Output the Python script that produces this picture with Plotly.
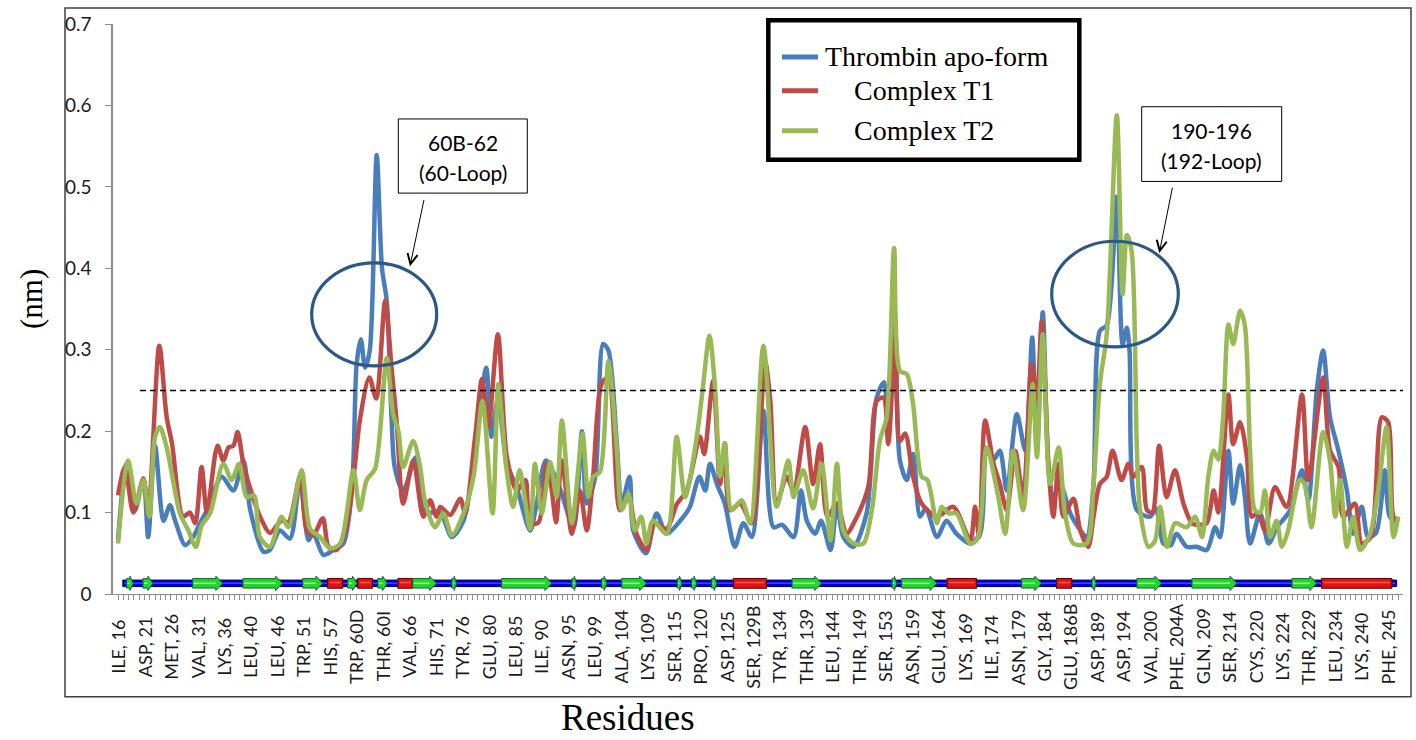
import plotly.graph_objects as go

# ---------------- data ----------------
tick_labels = ["ILE, 16", "ASP, 21", "MET, 26", "VAL, 31", "LYS, 36", "LEU, 40", "LEU, 46", "TRP, 51",
               "HIS, 57", "TRP, 60D", "THR, 60I", "VAL, 66", "HIS, 71", "TYR, 76", "GLU, 80", "LEU, 85",
               "ILE, 90", "ASN, 95", "LEU, 99", "ALA, 104", "LYS, 109", "SER, 115", "PRO, 120", "ASP, 125",
               "SER, 129B", "TYR, 134", "THR, 139", "LEU, 144", "THR, 149", "SER, 153", "ASN, 159", "GLU, 164",
               "LYS, 169", "ILE, 174", "ASN, 179", "GLY, 184", "GLU, 186B", "ASP, 189", "ASP, 194", "VAL, 200",
               "PHE, 204A", "GLN, 209", "SER, 214", "CYS, 220", "LYS, 224", "THR, 229", "LEU, 234", "LYS, 240",
               "PHE, 245"]
tick_index = [5 * k for k in range(len(tick_labels))]

apo_idx = [0, 1.6, 3.2, 4.8, 5.7, 7.0, 8.6, 9.8, 10.8, 12.7, 14.2, 15.5, 16.8, 19.6, 21.8, 23.7, 25.0, 27.5,
           28.7, 30.6, 32.5, 34.4, 36.0, 36.9, 38.8, 40.7, 42.6, 44.3, 45.1, 45.9, 46.7, 47.6, 48.9, 49.9, 50.8,
           51.7, 52.3, 53.9, 56.3, 57.7, 59.0, 60.9, 63.1, 65.3, 67.5, 69.6, 70.6, 71.8, 73.5, 75.4, 77.9, 79.1,
           80.9, 83.5, 86.1, 87.7, 88.6, 90.2, 91.7, 92.7, 94.3, 95.2, 96.7, 97.4, 99.8, 101.8, 103.7, 106.9,
           108.1, 109.9, 111.0, 111.9, 113.2, 114.7, 116.6, 118.2, 119.8, 122.0, 123.9, 125.5, 127.7, 129.1,
           130.2, 131.8, 132.9, 134.7, 135.9, 137.1, 139.0, 141.5, 143.4, 144.8, 145.6, 146.8, 147.8, 149.1,
           150.3, 151.6, 152.7, 154.8, 156.6, 158.5, 161.1, 163.0, 164.2, 165.5, 166.7, 168.0, 169.9, 171.5,
           172.8, 173.7, 174.8, 175.9, 176.8, 178.1, 180.0, 181.5, 183.1, 184.4, 185.6, 186.9, 188.8, 189.9,
           190.7, 191.2, 192.6, 195.1, 196.2, 197.6, 199.0, 200.1, 202.0, 203.9, 205.8, 207.4, 208.3, 209.9,
           210.8, 212.1, 213.0, 214.0, 215.9, 217.5, 219.1, 221.6, 223.8, 225.0, 226.6, 227.8, 229.1, 230.7,
           232.3, 233.5, 235.1, 236.3, 237.8, 239.5, 240.4, 242.0]
apo_rmsf = [0.066, 0.160, 0.103, 0.140, 0.070, 0.182, 0.090, 0.109, 0.090, 0.060, 0.070, 0.087, 0.103, 0.144,
            0.127, 0.164, 0.103, 0.052, 0.054, 0.078, 0.068, 0.140, 0.066, 0.075, 0.048, 0.054, 0.062, 0.140,
            0.282, 0.313, 0.278, 0.300, 0.539, 0.400, 0.360, 0.217, 0.156, 0.127, 0.168, 0.103, 0.100, 0.100,
            0.070, 0.090, 0.176, 0.278, 0.193, 0.240, 0.160, 0.130, 0.078, 0.110, 0.164, 0.130, 0.082, 0.200,
            0.111, 0.144, 0.307, 0.299, 0.184, 0.111, 0.144, 0.078, 0.050, 0.099, 0.074, 0.095, 0.107, 0.144,
            0.127, 0.160, 0.135, 0.111, 0.058, 0.087, 0.070, 0.225, 0.082, 0.085, 0.070, 0.127, 0.090, 0.074,
            0.090, 0.054, 0.111, 0.070, 0.058, 0.099, 0.241, 0.260, 0.193, 0.339, 0.164, 0.140, 0.172, 0.095,
            0.105, 0.070, 0.090, 0.074, 0.062, 0.075, 0.176, 0.165, 0.176, 0.127, 0.221, 0.176, 0.315, 0.176,
            0.346, 0.156, 0.119, 0.135, 0.099, 0.082, 0.070, 0.135, 0.323, 0.330, 0.488, 0.307, 0.327, 0.300,
            0.103, 0.095, 0.105, 0.062, 0.060, 0.074, 0.058, 0.058, 0.054, 0.082, 0.070, 0.176, 0.111, 0.158,
            0.120, 0.062, 0.099, 0.062, 0.082, 0.103, 0.152, 0.115, 0.250, 0.299, 0.217, 0.176, 0.127, 0.074,
            0.107, 0.070, 0.075, 0.152, 0.095, 0.087]

t1_idx = [0, 1.3, 2.9, 4.8, 5.7, 7.8, 9.2, 10.2, 12.3, 13.6, 14.6, 15.8, 16.8, 18.8, 19.9, 20.9, 21.8, 22.6,
          23.7, 25.6, 27.2, 28.7, 30.9, 32.2, 34.4, 35.7, 36.9, 38.7, 39.8, 41.3, 43.2, 44.8, 45.7, 47.5, 48.8,
          50.5, 51.7, 52.7, 53.9, 55.8, 57.7, 59.0, 60.2, 60.9, 62.8, 64.7, 65.6, 67.5, 68.8, 70.0, 71.8, 73.5,
          75.4, 77.0, 77.9, 79.5, 81.0, 82.0, 82.8, 83.9, 85.8, 87.3, 88.6, 89.8, 91.4, 92.7, 94.9, 96.5, 98.0,
          99.9, 101.5, 103.7, 105.6, 107.5, 110.0, 110.8, 112.5, 113.8, 114.7, 115.7, 117.6, 119.8, 122.3,
          123.3, 124.5, 126.4, 127.7, 129.9, 131.4, 132.7, 134.1, 135.9, 137.7, 139.3, 141.8, 143.4, 144.7,
          145.6, 146.9, 147.8, 148.8, 150.3, 151.9, 154.8, 157.9, 161.1, 162.0, 162.8, 163.9, 165.5, 166.7,
          168.0, 169.6, 171.1, 172.7, 173.7, 174.6, 175.9, 176.8, 177.8, 178.7, 180.6, 181.9, 183.4, 184.4,
          185.6, 186.9, 188.0, 189.7, 191.0, 191.9, 193.5, 194.5, 195.5, 196.8, 198.2, 199.8, 201.4, 203.0,
          204.3, 205.8, 207.1, 208.0, 209.9, 210.8, 212.1, 213.4, 214.3, 215.5, 216.8, 218.7, 220.9, 223.8,
          225.0, 227.8, 229.1, 230.7, 231.6, 233.8, 235.1, 236.8, 238.9, 240.1, 241.1, 242.0]
t1_rmsf = [0.121, 0.156, 0.100, 0.142, 0.099, 0.305, 0.217, 0.185, 0.095, 0.100, 0.087, 0.156, 0.100, 0.182,
           0.164, 0.180, 0.182, 0.199, 0.160, 0.117, 0.090, 0.075, 0.090, 0.088, 0.144, 0.078, 0.072, 0.093,
           0.058, 0.054, 0.082, 0.160, 0.213, 0.266, 0.240, 0.360, 0.278, 0.209, 0.111, 0.164, 0.095, 0.115,
           0.095, 0.107, 0.097, 0.117, 0.099, 0.193, 0.264, 0.205, 0.319, 0.168, 0.127, 0.140, 0.087, 0.088,
           0.160, 0.127, 0.088, 0.164, 0.074, 0.127, 0.078, 0.144, 0.258, 0.266, 0.103, 0.119, 0.074, 0.054,
           0.087, 0.080, 0.110, 0.127, 0.193, 0.172, 0.262, 0.135, 0.185, 0.103, 0.111, 0.087, 0.286, 0.237,
           0.111, 0.144, 0.127, 0.205, 0.135, 0.184, 0.095, 0.111, 0.074, 0.090, 0.131, 0.237, 0.241, 0.184,
           0.315, 0.188, 0.197, 0.144, 0.111, 0.095, 0.107, 0.066, 0.107, 0.070, 0.213, 0.160, 0.135, 0.103,
           0.176, 0.119, 0.282, 0.237, 0.335, 0.156, 0.095, 0.160, 0.095, 0.117, 0.078, 0.058, 0.095, 0.135,
           0.144, 0.176, 0.140, 0.160, 0.144, 0.156, 0.103, 0.100, 0.182, 0.119, 0.152, 0.111, 0.087, 0.085,
           0.087, 0.127, 0.100, 0.245, 0.184, 0.211, 0.168, 0.095, 0.100, 0.078, 0.131, 0.107, 0.245, 0.140,
           0.266, 0.176, 0.156, 0.095, 0.111, 0.062, 0.070, 0.217, 0.211, 0.095, 0.090]

t2_idx = [0, 1.9, 3.5, 4.8, 5.9, 7.0, 7.9, 9.2, 11.7, 13.3, 14.7, 15.8, 17.4, 19.9, 21.5, 22.9, 24.3, 25.7,
          26.8, 28.7, 30.9, 32.2, 34.7, 36.3, 38.2, 40.1, 42.0, 44.5, 45.7, 47.0, 48.6, 50.8, 52.0, 53.0, 53.9,
          55.8, 57.1, 58.0, 59.9, 61.5, 63.1, 65.3, 67.2, 68.9, 70.8, 71.9, 73.3, 74.7, 75.9, 77.9, 78.8, 80.1,
          81.7, 82.9, 83.9, 85.8, 87.8, 88.9, 89.8, 91.1, 92.7, 94.3, 95.2, 96.5, 97.7, 98.9, 99.9, 101.1,
          103.7, 105.6, 107.2, 109.4, 110.5, 111.8, 112.9, 113.8, 114.7, 116.0, 117.9, 119.5, 122.0, 124.5,
          126.7, 127.7, 129.5, 131.4, 133.0, 134.7, 135.9, 137.1, 139.0, 140.9, 142.5, 144.0, 145.3, 146.7,
          147.8, 149.1, 150.3, 151.9, 153.0, 154.8, 155.7, 157.0, 158.5, 161.1, 162.5, 164.2, 166.4, 167.7,
          169.2, 171.1, 172.9, 173.7, 174.8, 176.2, 177.8, 179.0, 180.6, 183.1, 184.4, 185.6, 186.9, 188.8,
          189.9, 190.7, 191.6, 192.6, 193.2, 194.8, 196.0, 197.0, 198.3, 199.8, 202.0, 203.6, 204.9, 206.1,
          207.1, 208.0, 208.9, 209.9, 210.8, 212.1, 213.0, 214.0, 214.9, 215.9, 216.8, 217.8, 219.0, 220.0,
          221.2, 222.2, 223.4, 224.3, 225.6, 227.8, 229.1, 230.1, 231.0, 232.3, 233.5, 234.8, 236.7, 238.2,
          239.8, 241.1, 242.0]
t2_rmsf = [0.062, 0.164, 0.111, 0.140, 0.095, 0.193, 0.205, 0.180, 0.099, 0.078, 0.058, 0.084, 0.099, 0.160,
           0.140, 0.160, 0.119, 0.121, 0.070, 0.058, 0.095, 0.082, 0.152, 0.080, 0.070, 0.056, 0.062, 0.152,
           0.103, 0.140, 0.154, 0.290, 0.221, 0.200, 0.156, 0.188, 0.156, 0.115, 0.082, 0.099, 0.072, 0.099,
           0.144, 0.237, 0.099, 0.258, 0.160, 0.107, 0.152, 0.080, 0.160, 0.099, 0.162, 0.119, 0.213, 0.087,
           0.197, 0.119, 0.144, 0.150, 0.286, 0.176, 0.103, 0.123, 0.078, 0.095, 0.062, 0.090, 0.074, 0.193,
           0.119, 0.193, 0.250, 0.317, 0.250, 0.144, 0.185, 0.103, 0.115, 0.087, 0.305, 0.107, 0.164, 0.119,
           0.152, 0.105, 0.160, 0.066, 0.160, 0.078, 0.062, 0.062, 0.103, 0.188, 0.217, 0.425, 0.274, 0.270,
           0.233, 0.144, 0.140, 0.087, 0.107, 0.099, 0.099, 0.062, 0.068, 0.180, 0.119, 0.074, 0.176, 0.103,
           0.258, 0.168, 0.319, 0.135, 0.180, 0.099, 0.062, 0.062, 0.135, 0.258, 0.319, 0.588, 0.368, 0.441,
           0.421, 0.176, 0.103, 0.058, 0.065, 0.107, 0.058, 0.087, 0.082, 0.095, 0.070, 0.144, 0.176, 0.165,
           0.217, 0.331, 0.307, 0.348, 0.330, 0.176, 0.103, 0.100, 0.127, 0.070, 0.090, 0.058, 0.078, 0.111,
           0.140, 0.135, 0.082, 0.199, 0.164, 0.095, 0.140, 0.058, 0.095, 0.054, 0.074, 0.127, 0.205, 0.070,
           0.095]

# secondary structure (residue-index ranges)
strand_start = [1.6, 4.7, 14.1, 23.6, 34.9, 43.4, 49.1, 55.7, 63.1, 72.5, 85.8, 91.4, 95.2, 105.7, 108.4,
                112.2, 127.4, 146.3, 148.1, 170.8, 184.1, 192.6, 203.0, 221.9]
strand_end = [2.9, 6.6, 19.8, 31.1, 38.7, 45.2, 50.9, 60.2, 64.0, 82.0, 86.7, 92.4, 99.9, 106.6, 109.4,
              113.2, 133.0, 147.2, 154.8, 174.6, 184.9, 197.3, 211.5, 226.6]
helix_start = [39.6, 45.3, 52.9, 116.3, 156.7, 177.4, 227.5]
helix_end = [42.5, 48.1, 55.7, 122.6, 162.3, 180.3, 240.8]
backbone = [0.9, 241.7]

threshold = 0.25
series_names = ["Thrombin apo-form", "Complex T1", "Complex T2"]
series_colors = ["#4A7EBB", "#BE4B48", "#98B954"]

# ---------------- geometry helpers (pixel -> paper) ----------------
PL, PR, PT, PB = 113, 1403, 22, 594
def px(xp):
    return (xp - PL) / (PR - PL)
def py(yp):
    return (PB - yp) / (PB - PT)

fig = go.Figure()
for xs, ys, name, col in zip([apo_idx, t1_idx, t2_idx], [apo_rmsf, t1_rmsf, t2_rmsf], series_names, series_colors):
    fig.add_trace(go.Scatter(x=xs, y=ys, mode="lines", name=name, showlegend=False,
                             line=dict(color=col, width=4.5, shape="spline", smoothing=0.8)))

shapes = []
# outer border
shapes.append(dict(type="rect", xref="paper", yref="paper", x0=px(65), x1=px(1411), y0=py(697), y1=py(6),
                   line=dict(color="#404040", width=1.5), layer="below"))
# threshold line
shapes.append(dict(type="line", xref="paper", yref="y", x0=px(140), x1=1.0, y0=threshold, y1=threshold,
                   line=dict(color="black", width=1.5, dash="6px,4px")))

# secondary structure bar
yc = 0.0131
shapes.append(dict(type="rect", xref="x", yref="y", x0=backbone[0], x1=backbone[1], y0=yc - 0.0040, y1=yc + 0.0040,
                   fillcolor="#0000DD", line=dict(color="#000050", width=1)))
shapes.append(dict(type="line", xref="x", yref="y", x0=backbone[0] + 0.3, x1=backbone[1] - 0.3, y0=yc, y1=yc,
                   line=dict(color="#4040FF", width=1.5)))
for s, e in zip(helix_start, helix_end):
    shapes.append(dict(type="rect", xref="x", yref="y", x0=s, x1=e, y0=yc - 0.0060, y1=yc + 0.0060,
                       fillcolor="#E31010", line=dict(color="#500000", width=1)))
    shapes.append(dict(type="line", xref="x", yref="y", x0=s + 0.4, x1=e - 0.4, y0=yc + 0.001, y1=yc + 0.001,
                       line=dict(color="#FF5A5A", width=1.5)))
for s, e in zip(strand_start, strand_end):
    head = min(1.3, (e - s) * 0.5)
    b = e - head
    hb, hh = 0.0058, 0.0088
    path = (f"M{s},{yc - hb} L{b},{yc - hb} L{b},{yc - hh} L{e},{yc} L{b},{yc + hh} "
            f"L{b},{yc + hb} L{s},{yc + hb} Z")
    shapes.append(dict(type="path", xref="x", yref="y", path=path, fillcolor="#22D822",
                       line=dict(color="#0E5E4E", width=1)))
    shapes.append(dict(type="line", xref="x", yref="y", x0=s + 0.2, x1=b, y0=yc, y1=yc,
                       line=dict(color="#9CFF9C", width=1.5)))

# ellipses around loops
ell_col = "#2D5886"
shapes.append(dict(type="circle", xref="paper", yref="paper", x0=px(311.7), x1=px(436.7), y0=py(365), y1=py(261.7),
                   line=dict(color=ell_col, width=3.2)))
shapes.append(dict(type="circle", xref="paper", yref="paper", x0=px(1051.7), x1=px(1178.3), y0=py(346), y1=py(240),
                   line=dict(color=ell_col, width=3.2)))
# callout boxes
shapes.append(dict(type="rect", xref="paper", yref="paper", x0=px(398.3), x1=px(527.3), y0=py(191.7), y1=py(117.3),
                   line=dict(color="black", width=1), fillcolor="white"))
shapes.append(dict(type="rect", xref="paper", yref="paper", x0=px(1141.7), x1=px(1281.7), y0=py(180), y1=py(105),
                   line=dict(color="black", width=1), fillcolor="white"))
# legend box
shapes.append(dict(type="rect", xref="paper", yref="paper", x0=px(768.3), x1=px(1079.3), y0=py(158.3), y1=py(18.3),
                   line=dict(color="black", width=4.5), fillcolor="white"))
legend_y = [55, 89, 129]
for ly, col in zip(legend_y, series_colors):
    shapes.append(dict(type="line", xref="paper", yref="paper", x0=px(782), x1=px(818), y0=py(ly), y1=py(ly),
                       line=dict(color=col, width=5)))

ann = []
serif = "Liberation Serif, Times New Roman, serif"
sans = "Lato, Open Sans, sans-serif"
# category labels, rotated and centred under their ticks
for ti, tl in zip(tick_index, tick_labels):
    ann.append(dict(xref="x", yref="paper", x=ti, y=py(647), text=tl, showarrow=False, textangle=-90,
                    xanchor="center", yanchor="middle", font=dict(family=sans, size=18, color="#1A1A1A")))
legend_x = [823, 851.7, 851.7]
for ly, lx, name in zip(legend_y, legend_x, series_names):
    ann.append(dict(xref="paper", yref="paper", x=px(lx), y=py(ly), text=name, showarrow=False,
                    xanchor="left", yanchor="middle", font=dict(family=serif, size=28, color="black")))
ann.append(dict(xref="paper", yref="paper", x=px(462.8), y=py(141), text="60B-62", showarrow=False,
                xanchor="center", yanchor="middle", font=dict(family=sans, size=21, color="black")))
ann.append(dict(xref="paper", yref="paper", x=px(462.8), y=py(171), text="(60-Loop)", showarrow=False,
                xanchor="center", yanchor="middle", font=dict(family=sans, size=21, color="black")))
ann.append(dict(xref="paper", yref="paper", x=px(1211.7), y=py(129), text="190-196", showarrow=False,
                xanchor="center", yanchor="middle", font=dict(family=sans, size=21, color="black")))
ann.append(dict(xref="paper", yref="paper", x=px(1211.7), y=py(159), text="(192-Loop)", showarrow=False,
                xanchor="center", yanchor="middle", font=dict(family=sans, size=21, color="black")))
# arrows
ann.append(dict(xref="paper", yref="paper", x=px(410), y=py(265), ax=14.3, ay=-67.7, text="", showarrow=True,
                arrowhead=5, arrowsize=2, arrowwidth=1, arrowcolor="black"))
ann.append(dict(xref="paper", yref="paper", x=px(1159.3), y=py(251.7), ax=13.4, ay=-66.7, text="", showarrow=True,
                arrowhead=5, arrowsize=2, arrowwidth=1, arrowcolor="black"))
# axis titles
ann.append(dict(xref="paper", yref="paper", x=px(31), y=py(298), text="(nm)", showarrow=False, textangle=-90,
                xanchor="center", yanchor="middle", font=dict(family=serif, size=31, color="black")))
ann.append(dict(xref="paper", yref="paper", x=px(628), y=py(718), text="Residues", showarrow=False,
                xanchor="center", yanchor="middle", font=dict(family=serif, size=37, color="black")))

fig.update_layout(
    width=1416, height=740,
    margin=dict(l=PL, r=1416 - PR, t=PT, b=740 - PB, pad=0),
    paper_bgcolor="white", plot_bgcolor="white",
    shapes=shapes, annotations=ann, showlegend=False,
    xaxis=dict(range=[-0.95, 242.9], tickmode="array", tickvals=tick_index, ticktext=tick_labels,
               showticklabels=False, ticks="outside", ticklen=5, tickcolor="#8C8C8C", showline=True,
               linecolor="#8C8C8C", linewidth=1, showgrid=False, zeroline=False,
               minor=dict(tickmode="linear", tick0=0, dtick=1, ticks="outside", ticklen=5, tickcolor="#8C8C8C")),
    yaxis=dict(range=[0, 0.7], tick0=0, dtick=0.1, ticks="outside", ticklen=6, tickcolor="#8C8C8C",
               showline=True, linecolor="#8C8C8C", linewidth=1.5, showgrid=False, zeroline=False,
               ticklabelstandoff=10,
               tickfont=dict(family=sans, size=19, color="#1A1A1A")),
)

fig.write_html("out.html")
